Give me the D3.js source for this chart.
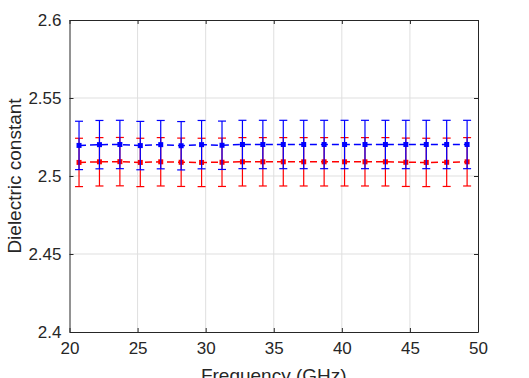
<!DOCTYPE html>
<html>
<head>
<meta charset="utf-8">
<script src="https://cdn.jsdelivr.net/npm/d3@7"></script>
<style>
  body { margin: 0; background: #fff; }
  svg { font-family: "Liberation Sans", Arial, sans-serif; }
</style>
</head>
<body>
<svg id="drawing_region"></svg>
<script>
// frequency points (GHz)
var freq = [20.7, 22.2, 23.7, 25.2, 26.7, 28.2, 29.7, 31.2, 32.7, 34.2,
            35.7, 37.2, 38.7, 40.2, 41.7, 43.2, 44.7, 46.2, 47.7, 49.2];
// blue series (mean, error)
var blueVal = [2.5196, 2.5201, 2.5202, 2.5195, 2.5201, 2.5194, 2.5201, 2.5197, 2.5202, 2.5202,
               2.5202, 2.5202, 2.5202, 2.5202, 2.5202, 2.5202, 2.5202, 2.5202, 2.5202, 2.5202];
var blueErr = 0.0155;
// red series (mean, error)
var redVal = [2.5087, 2.5091, 2.5092, 2.5087, 2.5091, 2.5088, 2.5087, 2.5088, 2.5091, 2.5091,
              2.5091, 2.5091, 2.5091, 2.5091, 2.5091, 2.5091, 2.5088, 2.5087, 2.5088, 2.5091];
var redErr = 0.0155;
var xTicks = [20, 25, 30, 35, 40, 45, 50];
var yTicks = [2.4, 2.45, 2.5, 2.55, 2.6];

var width = 529, height = 378;
var margin = {top: 20, right: 51, bottom: 46, left: 69.5};
var innerW = width - margin.left - margin.right;
var innerH = height - margin.top - margin.bottom;
var ink = '#262626';

var svg = d3.select('#drawing_region')
    .attr('width', width)
    .attr('height', height);

var chart = svg.append('g')
    .attr('transform', `translate(${margin.left}, ${margin.top})`);

var xscale = d3.scaleLinear().domain([20, 50]).range([0, innerW]);
var yscale = d3.scaleLinear().domain([2.4, 2.6]).range([innerH, 0]);

// grid
chart.append('g').selectAll('line').data(xTicks.slice(1, -1)).enter()
    .append('line')
    .attr('x1', d => xscale(d)).attr('x2', d => xscale(d))
    .attr('y1', 0).attr('y2', innerH)
    .attr('stroke', '#dfdfdf').attr('stroke-width', 1);
chart.append('g').selectAll('line').data(yTicks.slice(1, -1)).enter()
    .append('line')
    .attr('y1', d => yscale(d)).attr('y2', d => yscale(d))
    .attr('x1', 0).attr('x2', innerW)
    .attr('stroke', '#dfdfdf').attr('stroke-width', 1);

// axes (ticks pointing inward, box on)
function styleAxis(g) {
    g.select('.domain').attr('stroke', ink);
    g.selectAll('.tick line').attr('stroke', ink);
    g.selectAll('.tick text').attr('fill', ink).style('font-size', '17px');
}
chart.append('g')
    .attr('transform', `translate(0, ${innerH})`)
    .call(d3.axisBottom(xscale).tickValues(xTicks).tickSize(-4).tickSizeOuter(0).tickPadding(10).tickFormat(d3.format('d')))
    .call(styleAxis);
chart.append('g')
    .call(d3.axisTop(xscale).tickValues(xTicks).tickSize(-4).tickSizeOuter(0).tickFormat(''))
    .call(styleAxis);
chart.append('g')
    .call(d3.axisLeft(yscale).tickValues(yTicks).tickSize(-4).tickSizeOuter(0).tickPadding(8).tickFormat(d => d3.format('')(+d.toFixed(2))))
    .call(styleAxis);
chart.append('g')
    .attr('transform', `translate(${innerW}, 0)`)
    .call(d3.axisRight(yscale).tickValues(yTicks).tickSize(-4).tickSizeOuter(0).tickFormat(''))
    .call(styleAxis);

// series
function drawSeries(vals, err, color) {
    var pts = freq.map((f, i) => ({x: f, y: vals[i]}));
    var g = chart.append('g');
    var capW = 4;
    g.selectAll('line.bar').data(pts).enter().append('line')
        .attr('x1', d => xscale(d.x)).attr('x2', d => xscale(d.x))
        .attr('y1', d => yscale(d.y - err)).attr('y2', d => yscale(d.y + err))
        .attr('stroke', color).attr('stroke-width', 1.2);
    [-1, 1].forEach(s => {
        g.selectAll(null).data(pts).enter().append('line')
            .attr('x1', d => xscale(d.x) - capW).attr('x2', d => xscale(d.x) + capW)
            .attr('y1', d => yscale(d.y + s * err)).attr('y2', d => yscale(d.y + s * err))
            .attr('stroke', color).attr('stroke-width', 1.2);
    });
    g.append('path').datum(pts)
        .attr('d', d3.line().x(d => xscale(d.x)).y(d => yscale(d.y)))
        .attr('fill', 'none').attr('stroke', color)
        .attr('stroke-width', 1.5).attr('stroke-dasharray', '7,4');
    g.selectAll('rect').data(pts).enter().append('rect')
        .attr('x', d => xscale(d.x) - 2.5).attr('y', d => yscale(d.y) - 2.5)
        .attr('width', 5).attr('height', 5)
        .attr('fill', color);
}
drawSeries(redVal, redErr, '#ff0000');
drawSeries(blueVal, blueErr, '#0000ff');

// labels
svg.append('text')
    .attr('transform', `translate(21, ${margin.top + innerH / 2}) rotate(-90)`)
    .attr('text-anchor', 'middle')
    .attr('fill', ink).style('font-size', '19px')
    .text('Dielectric constant');
svg.append('text')
    .attr('x', margin.left + innerW / 2).attr('y', 382)
    .attr('text-anchor', 'middle')
    .attr('fill', ink).style('font-size', '19px')
    .text('Frequency (GHz)');
</script>
</body>
</html>
